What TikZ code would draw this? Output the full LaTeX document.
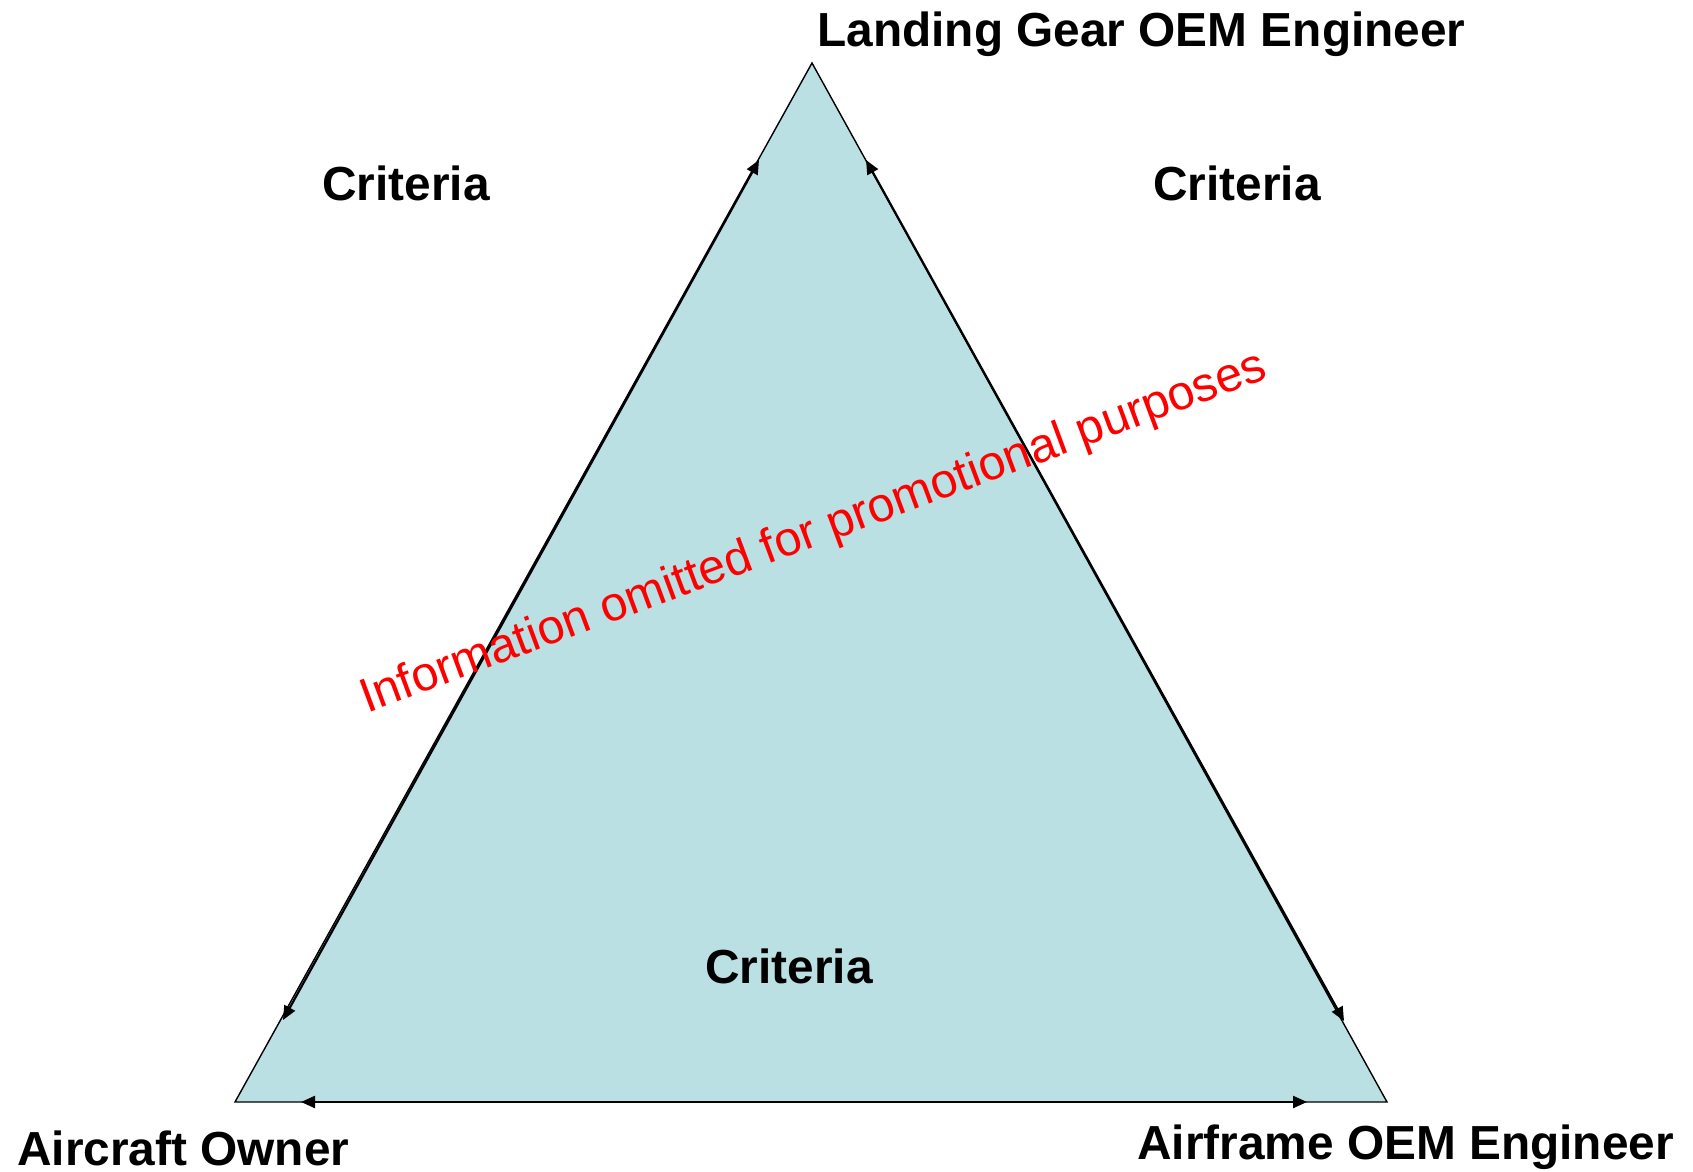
\documentclass[tikz,border=0pt]{standalone}
\usepackage{fontspec}
\setmainfont{Liberation Sans}
\usetikzlibrary{arrows.meta}
\definecolor{trifill}{HTML}{BAE0E3}
\definecolor{notered}{HTML}{FF0000}
\tikzset{
  lbl/.style={font=\fontsize{23.9}{28}\selectfont\bfseries, inner sep=0pt, anchor=base west},
  note/.style={font=\fontsize{24.2}{28}\selectfont, text=notered, inner sep=0pt, rotate=20.4},
  sidearrow/.style={line width=1.1pt, {Triangle[length=7pt,width=6pt]}-{Triangle[length=7pt,width=6pt]}},
  edge/.style={line width=0.7pt, line join=miter}
}
\begin{document}
\begin{tikzpicture}[x=0.5pt,y=-0.5pt]
\useasboundingbox (0,0) rectangle (1693,1172);
% triangle vertices
\coordinate (T) at (812,63);
\coordinate (L) at (235,1102);
\coordinate (R) at (1387,1102);
\filldraw[fill=trifill, draw=black, edge] (T) -- (L) -- (R) -- cycle;
% arrow end points
\coordinate (la) at (759,160);
\coordinate (lb) at (283,1020);
\coordinate (ra) at (866,160);
\coordinate (rb) at (1344,1021);
\coordinate (ba) at (301,1102);
\coordinate (bb) at (1307,1102);
\draw[sidearrow] (la) -- (lb);
\draw[sidearrow] (ra) -- (rb);
\draw[sidearrow] (ba) -- (bb);
% labels
\node[lbl] (top) at (817,47) {Landing Gear OEM Engineer};
\node[lbl] (cl) at (322,200) {Criteria};
\node[lbl] (cr) at (1153,200) {Criteria};
\node[lbl] (cb) at (705,983) {Criteria};
\node[lbl] (owner) at (17,1165) {Aircraft Owner};
\node[lbl] (airframe) at (1137,1159) {Airframe OEM Engineer};
\node[note] (info) at (814,534) {Information omitted for promotional purposes};
\end{tikzpicture}
\end{document}
